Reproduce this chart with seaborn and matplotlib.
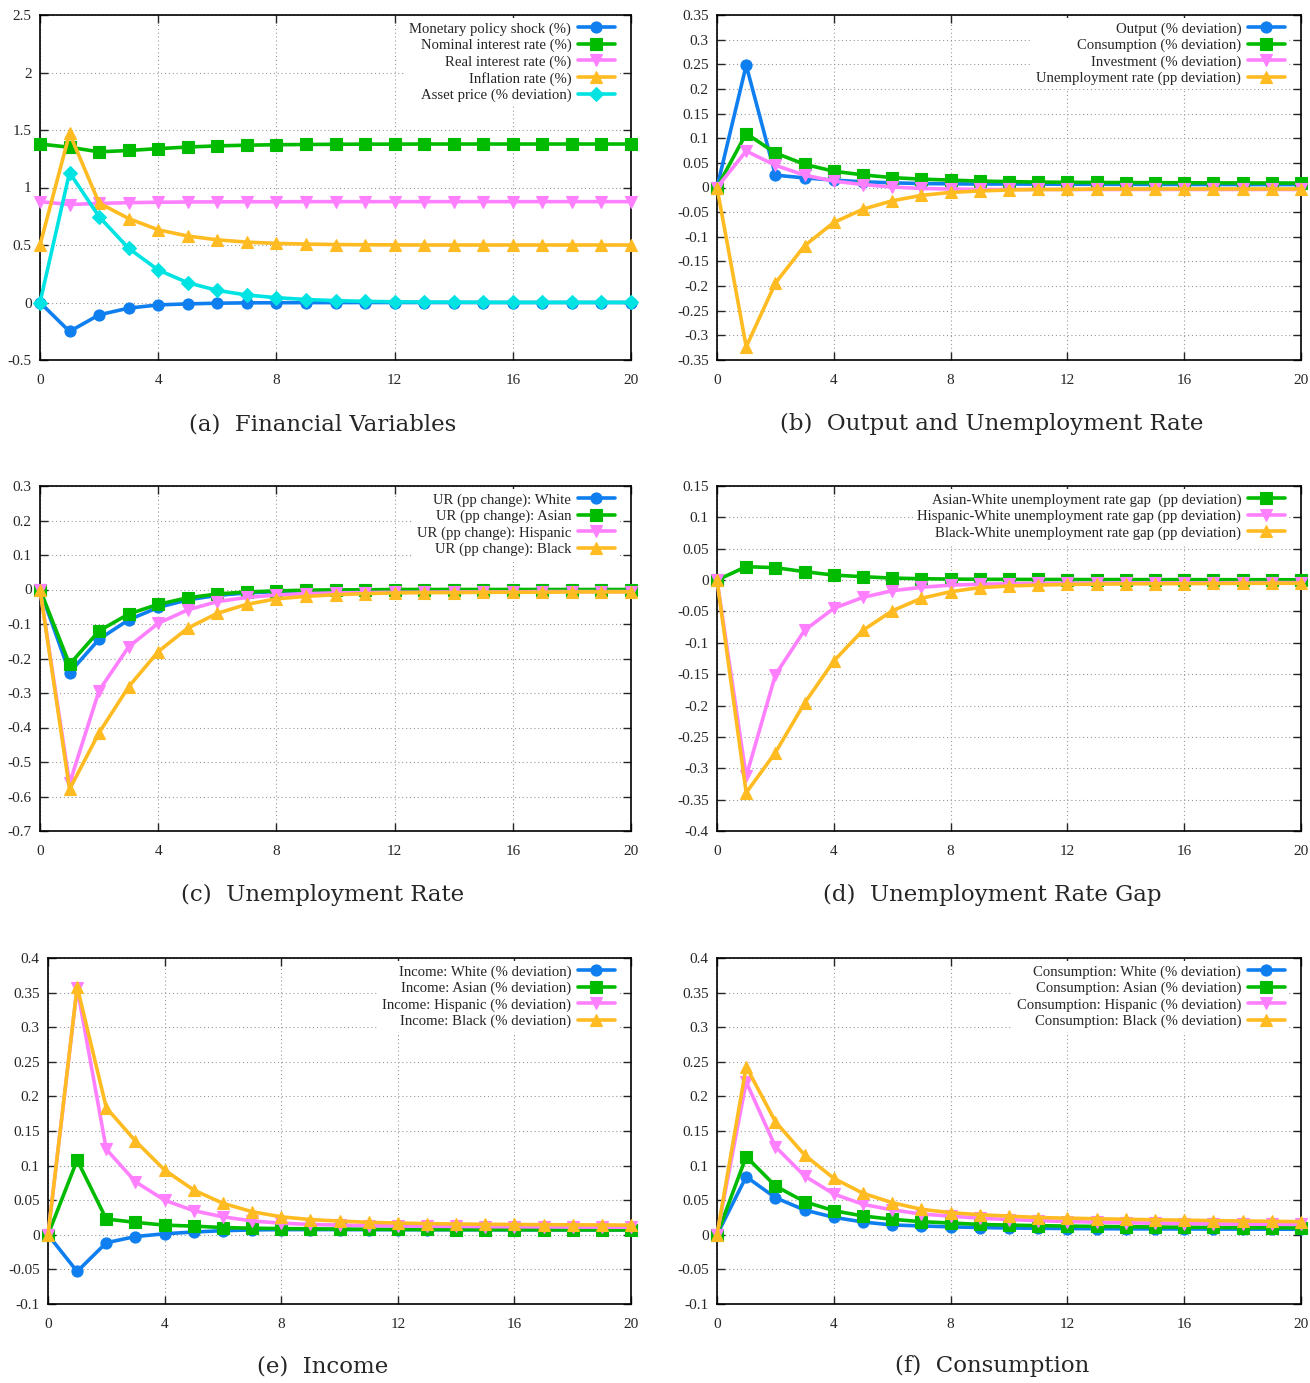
import numpy as np
import matplotlib
matplotlib.use("Agg")
import matplotlib.pyplot as plt
from matplotlib.ticker import FuncFormatter, MultipleLocator
from matplotlib.transforms import offset_copy
import seaborn as sns

# Horizon (quarters)
periods = list(range(21))

# (a) Financial variables
a_shock = [0, -0.252, -0.107, -0.049, -0.021, -0.012, -0.006, -0.003, -0.002, -0.001, -0.001,
           0, 0, 0, 0, 0, 0, 0, 0, 0, 0]
a_nominal = [1.378, 1.35, 1.31, 1.322, 1.338, 1.352, 1.362, 1.368, 1.372, 1.374, 1.376,
             1.377, 1.377, 1.378, 1.378, 1.378, 1.378, 1.378, 1.378, 1.378, 1.378]
a_real = [0.877, 0.852, 0.862, 0.868, 0.872, 0.874, 0.875, 0.876, 0.876, 0.877, 0.877,
          0.877, 0.877, 0.877, 0.877, 0.877, 0.877, 0.877, 0.877, 0.877, 0.877]
a_inflation = [0.5, 1.47, 0.865, 0.73, 0.632, 0.578, 0.545, 0.525, 0.514, 0.508, 0.504,
               0.502, 0.501, 0.5, 0.5, 0.5, 0.5, 0.5, 0.5, 0.5, 0.5]
a_asset = [0, 1.13, 0.746, 0.471, 0.283, 0.172, 0.105, 0.065, 0.042, 0.026, 0.016,
           0.01, 0.006, 0.004, 0.003, 0.002, 0.001, 0.001, 0.001, 0.001, 0.001]

# (b) Output and unemployment rate
b_output = [0, 0.248, 0.025, 0.0195, 0.015, 0.0115, 0.0095, 0.008, 0.0075, 0.007, 0.007,
            0.0068, 0.0066, 0.0065, 0.0064, 0.0063, 0.0062, 0.0061, 0.006, 0.006, 0.006]
b_consumption = [0, 0.1095, 0.07, 0.047, 0.033, 0.0256, 0.02, 0.017, 0.015, 0.013, 0.012,
                 0.011, 0.0105, 0.0102, 0.01, 0.0098, 0.0096, 0.0094, 0.0092, 0.0091, 0.009]
b_investment = [0, 0.074, 0.045, 0.025, 0.013, 0.006, 0.001, -0.002, -0.003, -0.004, -0.004,
                -0.004, -0.004, -0.004, -0.004, -0.004, -0.004, -0.004, -0.004, -0.004, -0.004]
b_unemp = [0, -0.323, -0.194, -0.118, -0.071, -0.044, -0.027, -0.016, -0.01, -0.007, -0.005,
           -0.004, -0.004, -0.003, -0.003, -0.003, -0.003, -0.003, -0.003, -0.003, -0.003]

# (c) Unemployment rate by group
c_white = [0, -0.241, -0.144, -0.088, -0.052, -0.03, -0.017, -0.01, -0.006, -0.004, -0.003,
           -0.002, -0.002, -0.001, -0.001, -0.001, -0.001, -0.001, -0.001, -0.001, -0.001]
c_asian = [0, -0.217, -0.12, -0.071, -0.043, -0.024, -0.013, -0.007, -0.004, -0.002, -0.001,
           -0.001, 0, 0, 0, 0, 0, 0, 0, 0, 0]
c_hispanic = [0, -0.562, -0.293, -0.166, -0.098, -0.059, -0.035, -0.023, -0.016, -0.012, -0.01,
              -0.009, -0.008, -0.008, -0.007, -0.007, -0.007, -0.006, -0.006, -0.006, -0.006]
c_black = [0, -0.579, -0.415, -0.282, -0.18, -0.112, -0.069, -0.043, -0.027, -0.02, -0.015,
           -0.012, -0.01, -0.009, -0.009, -0.008, -0.008, -0.008, -0.007, -0.007, -0.007]

# (d) Unemployment rate gaps
d_asian_white = [0, 0.0214, 0.0198, 0.0134, 0.008, 0.0054, 0.0032, 0.0022, 0.0016, 0.0013, 0.0011,
                 0.001, 0.0009, 0.0008, 0.0008, 0.0007, 0.0007, 0.0006, 0.0006, 0.0006, 0.0005]
d_hispanic_white = [0, -0.313, -0.151, -0.08, -0.045, -0.0275, -0.017, -0.0115, -0.008, -0.0066, -0.0058,
                    -0.0053, -0.005, -0.0048, -0.0046, -0.0045, -0.0044, -0.0043, -0.0042, -0.0041, -0.004]
d_black_white = [0, -0.339, -0.275, -0.196, -0.129, -0.08, -0.049, -0.029, -0.0185, -0.012, -0.0094,
                 -0.008, -0.007, -0.0065, -0.006, -0.0058, -0.0056, -0.0054, -0.0052, -0.0051, -0.005]

# (e) Income by group
e_white = [0, -0.053, -0.0115, -0.0025, 0.0015, 0.004, 0.006, 0.007, 0.0075, 0.0075, 0.0075,
           0.0074, 0.0074, 0.0073, 0.0073, 0.0072, 0.0072, 0.0071, 0.0071, 0.007, 0.007]
e_asian = [0, 0.108, 0.0228, 0.018, 0.014, 0.0125, 0.0105, 0.0095, 0.009, 0.0086, 0.0083,
           0.008, 0.0078, 0.0077, 0.0076, 0.0075, 0.0074, 0.0073, 0.0072, 0.0071, 0.007]
e_hispanic = [0, 0.357, 0.1235, 0.0767, 0.05, 0.0348, 0.026, 0.02, 0.0168, 0.015, 0.014,
              0.0133, 0.0128, 0.0124, 0.0121, 0.0118, 0.0116, 0.0114, 0.0112, 0.0111, 0.011]
e_black = [0, 0.3585, 0.1837, 0.1355, 0.0936, 0.0647, 0.0455, 0.0334, 0.026, 0.022, 0.0198,
           0.018, 0.017, 0.0162, 0.0156, 0.0152, 0.0149, 0.0146, 0.0144, 0.0142, 0.014]

# (f) Consumption by group
f_white = [0, 0.084, 0.0536, 0.0358, 0.0253, 0.0185, 0.0142, 0.0128, 0.0115, 0.0105, 0.0098,
           0.0094, 0.009, 0.0088, 0.0086, 0.0085, 0.0084, 0.0083, 0.0082, 0.0081, 0.008]
f_asian = [0, 0.113, 0.0705, 0.0478, 0.0348, 0.0272, 0.0224, 0.019, 0.017, 0.015, 0.014,
           0.0132, 0.0126, 0.0121, 0.0117, 0.0113, 0.011, 0.0107, 0.0104, 0.0102, 0.01]
f_hispanic = [0, 0.221, 0.1273, 0.085, 0.059, 0.044, 0.036, 0.03, 0.027, 0.024, 0.022,
              0.0205, 0.0192, 0.0182, 0.0174, 0.0167, 0.0162, 0.0158, 0.0155, 0.0152, 0.015]
f_black = [0, 0.243, 0.1634, 0.1153, 0.0816, 0.06, 0.0464, 0.0368, 0.032, 0.029, 0.027,
           0.025, 0.024, 0.0232, 0.0224, 0.0217, 0.0211, 0.0205, 0.02, 0.0195, 0.019]

# Colours / markers (gnuplot-like)
BLUE, GREEN, PINK, ORANGE, CYAN = "#0f7ff0", "#00bb00", "#ff80ff", "#ffbb22", "#00e3e3"

panels = [
    dict(caption="(a)  Financial Variables", ylim=(-0.5, 2.5), ystep=0.5,
         pos=(40, 15, 631, 360), cap=(323, 424),
         series=[(a_shock, "Monetary policy shock (%)", BLUE, "o"),
                 (a_nominal, "Nominal interest rate (%)", GREEN, "s"),
                 (a_real, "Real interest rate (%)", PINK, "v"),
                 (a_inflation, "Inflation rate (%)", ORANGE, "^"),
                 (a_asset, "Asset price (% deviation)", CYAN, "D")]),
    dict(caption="(b)  Output and Unemployment Rate", ylim=(-0.35, 0.35), ystep=0.05,
         pos=(717, 15, 1301, 360), cap=(992, 424),
         series=[(b_output, "Output (% deviation)", BLUE, "o"),
                 (b_consumption, "Consumption (% deviation)", GREEN, "s"),
                 (b_investment, "Investment (% deviation)", PINK, "v"),
                 (b_unemp, "Unemployment rate (pp deviation)", ORANGE, "^")]),
    dict(caption="(c)  Unemployment Rate", ylim=(-0.7, 0.3), ystep=0.1,
         pos=(40, 486, 631, 831), cap=(323, 895),
         series=[(c_white, "UR (pp change): White", BLUE, "o"),
                 (c_asian, "UR (pp change): Asian", GREEN, "s"),
                 (c_hispanic, "UR (pp change): Hispanic", PINK, "v"),
                 (c_black, "UR (pp change): Black", ORANGE, "^")]),
    dict(caption="(d)  Unemployment Rate Gap", ylim=(-0.4, 0.15), ystep=0.05,
         pos=(717, 486, 1301, 831), cap=(992, 895),
         series=[(d_asian_white, "Asian-White unemployment rate gap  (pp deviation)", GREEN, "s"),
                 (d_hispanic_white, "Hispanic-White unemployment rate gap (pp deviation)", PINK, "v"),
                 (d_black_white, "Black-White unemployment rate gap (pp deviation)", ORANGE, "^")]),
    dict(caption="(e)  Income", ylim=(-0.1, 0.4), ystep=0.05,
         pos=(48, 958, 631, 1304), cap=(323, 1366),
         series=[(e_white, "Income: White (% deviation)", BLUE, "o"),
                 (e_asian, "Income: Asian (% deviation)", GREEN, "s"),
                 (e_hispanic, "Income: Hispanic (% deviation)", PINK, "v"),
                 (e_black, "Income: Black (% deviation)", ORANGE, "^")]),
    dict(caption="(f)  Consumption", ylim=(-0.1, 0.4), ystep=0.05,
         pos=(717, 958, 1301, 1304), cap=(992, 1366),
         series=[(f_white, "Consumption: White (% deviation)", BLUE, "o"),
                 (f_asian, "Consumption: Asian (% deviation)", GREEN, "s"),
                 (f_hispanic, "Consumption: Hispanic (% deviation)", PINK, "v"),
                 (f_black, "Consumption: Black (% deviation)", ORANGE, "^")]),
]

W, H = 1310, 1383
sns.set_style("ticks")
plt.rcParams['font.family'] = ['Liberation Serif', 'DejaVu Serif']
plt.rcParams['axes.unicode_minus'] = False

fig = plt.figure(figsize=(W / 100, H / 100), dpi=100)

fmt = FuncFormatter(lambda v, p: f"{round(v, 6):g}")

for panel in panels:
    x0, y0, x1, y1 = panel["pos"]
    ax = fig.add_axes([x0 / W, 1 - y1 / H, (x1 - x0) / W, (y1 - y0) / H])
    for vals, label, color, marker in panel["series"]:
        sns.lineplot(x=periods, y=vals, ax=ax, color=color, label=label,
                     marker=marker, markersize=8 if marker != "D" else 7,
                     markeredgecolor=color, markeredgewidth=0.8,
                     linewidth=2.6, clip_on=False, zorder=3)
    ax.set_xlim(0, 20)
    ax.set_ylim(*panel["ylim"])
    ax.xaxis.set_major_locator(MultipleLocator(4))
    ax.yaxis.set_major_locator(MultipleLocator(panel["ystep"]))
    ax.yaxis.set_major_formatter(fmt)
    ax.set_xlabel("")
    ax.set_ylabel("")
    ax.grid(True, linestyle=(0, (1, 2.5)), color="#999999", linewidth=0.8)
    ax.tick_params(direction="in", top=True, right=True, length=6, width=1,
                   labelsize=11)
    ax.tick_params(axis="x", pad=10)
    ax.tick_params(axis="y", pad=6)
    for s in ax.spines.values():
        s.set_linewidth(1.2)
        s.set_color("black")
    anchor = offset_copy(ax.transAxes, fig=fig, x=-6, y=3, units="dots")
    leg = ax.legend(loc="upper right", bbox_to_anchor=(1, 1), bbox_transform=anchor,
                    markerfirst=False, fontsize=10.6,
                    frameon=True, framealpha=1, edgecolor="none", facecolor="white",
                    handlelength=2.5, labelspacing=0.2, borderpad=0.3,
                    borderaxespad=0.4, handletextpad=0.45, fancybox=False)
    leg.set_zorder(5)
    cx, cy = panel["cap"]
    fig.text(cx / W, 1 - cy / H, panel["caption"], ha="center", va="center",
             fontsize=16.5, family=["DejaVu Serif"])

fig.savefig("out.png", dpi=100)
